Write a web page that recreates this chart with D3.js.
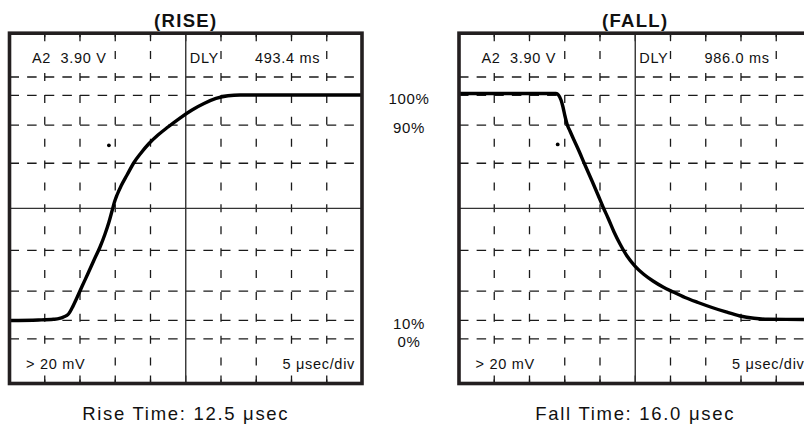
<!DOCTYPE html>
<html>
<head>
<meta charset="utf-8">
<script src="https://cdn.jsdelivr.net/npm/d3@7/dist/d3.min.js"></script>
<style>
  html, body { margin: 0; padding: 0; background: #fff; }
  svg { display: block; }
  text { font-family: "Liberation Sans", Arial, Helvetica, sans-serif; fill: #111; white-space: pre; }
</style>
</head>
<body>
<svg id="chart" width="804" height="425"></svg>
<script>
// ---------------- DATA ----------------
const panelTitles = ["(RISE)", "(FALL)"];
const captions = ["Rise Time: 12.5 μsec", "Fall Time: 16.0 μsec"];
const channelLabel = "A2  3.90 V";
const delayLabel = "DLY";
const delayValues = ["493.4 ms", "986.0 ms"];
const sensLabel = "> 20 mV";
const timebaseLabel = "5 μsec/div";

// time in µsec (5 µsec/div, 10 divisions), level in vertical divisions (8 divisions)
const riseTime  = [-25, -20.89, -18.76, -17.91, -17.34, -16.63, -16.13, -15.42, -14.72, -13.87, -13.01, -12.16, -11.45, -10.89, -10.46, -10.11, -9.75, -9.18, -8.33, -7.34, -6.35, -5.21, -3.94, -2.52, -0.82, 0.89, 2.59, 4.29, 5.99, 7.70, 25];
const riseLevel = [-2.561, -2.550, -2.534, -2.515, -2.481, -2.413, -2.276, -2.036, -1.785, -1.488, -1.180, -0.883, -0.586, -0.312, -0.061, 0.145, 0.305, 0.510, 0.762, 1.047, 1.264, 1.481, 1.675, 1.858, 2.063, 2.246, 2.394, 2.509, 2.572, 2.588, 2.588];

const fallTime  = [-25, -11.24, -10.89, -10.53, -10.25, -9.97, -9.68, -9.26, -8.69, -7.98, -7.13, -6.13, -5.28, -4.57, -3.86, -3.01, -2.16, -1.17, -0.04, 1.24, 2.52, 3.94, 5.38, 7.06, 8.90, 10.89, 12.87, 14.86, 16.84, 18.83, 25];
const fallLevel = [2.623, 2.623, 2.588, 2.474, 2.314, 2.109, 1.926, 1.766, 1.560, 1.309, 0.990, 0.624, 0.305, 0.031, -0.220, -0.540, -0.814, -1.088, -1.317, -1.511, -1.659, -1.796, -1.910, -2.036, -2.150, -2.264, -2.367, -2.458, -2.511, -2.534, -2.538];

const dotTime  = [-10.9, -11.0];
const dotLevel = [1.44, 1.46];

// horizontal graticule levels (divisions), solid centre at 0
const hGridLevels = [3.0, 2.58, 1.9, 1.03, -0.96, -1.89, -2.56, -2.98];
const vGridTimes = [-20, -15, -10, -5, 5, 10, 15, 20];

const pctLabels = ["100%", "90%", "10%", "0%"];
const pctLevels = [2.58, 1.9, -2.56, -2.98];

// ---------------- DRAW ----------------
const svg = d3.select("#chart");
const panelLeft = [9.5, 459];
const panelWidth = 352.5;
const frameTop = 33.2, frameBottom = 383.5;

const y = d3.scaleLinear().domain([-4, 4]).range([frameBottom, frameTop]);
const divPx = (frameBottom - frameTop) / 8;

function drawPanel(i, times, levels) {
  const x = d3.scaleLinear().domain([-25, 25]).range([panelLeft[i], panelLeft[i] + panelWidth]);
  const g = svg.append("g");

  // horizontal dashed graticule
  g.selectAll("line.h").data(hGridLevels).join("line")
    .attr("x1", x(-25)).attr("x2", x(25))
    .attr("y1", d => y(d)).attr("y2", d => y(d))
    .attr("stroke", "#1a1a1a").attr("stroke-width", 1.3)
    .attr("stroke-dasharray", "9.5,8.125");

  // vertical dashed graticule (dashes centred on half-division marks)
  const step = divPx / 2;
  g.selectAll("line.v").data(vGridTimes).join("line")
    .attr("x1", d => x(d)).attr("x2", d => x(d))
    .attr("y1", y(4)).attr("y2", y(-4))
    .attr("stroke", "#1a1a1a").attr("stroke-width", 1.3)
    .attr("stroke-dasharray", `8,${step - 8}`)
    .attr("stroke-dashoffset", 4);

  // frame ticks
  vGridTimes.concat([0]).forEach(t => {
    g.append("line").attr("x1", x(t)).attr("x2", x(t)).attr("y1", y(4)).attr("y2", y(4) + 8)
      .attr("stroke", "#1a1a1a").attr("stroke-width", 1.3);
    g.append("line").attr("x1", x(t)).attr("x2", x(t)).attr("y1", y(-4)).attr("y2", y(-4) - 8)
      .attr("stroke", "#1a1a1a").attr("stroke-width", 1.3);
  });

  // solid centre axes
  g.append("line").attr("x1", x(0)).attr("x2", x(0)).attr("y1", y(4)).attr("y2", y(-4))
    .attr("stroke", "#333").attr("stroke-width", 1.4);
  g.append("line").attr("x1", x(-25)).attr("x2", x(25)).attr("y1", y(0)).attr("y2", y(0))
    .attr("stroke", "#333").attr("stroke-width", 1.4);

  // labels inside, with white mask behind
  const labels = [
    {t: channelLabel, x: x(-25) + 22.5, y: 63, a: "start"},
    {t: delayLabel, x: x(0) + 4, y: 63, a: "start"},
    {t: delayValues[i], x: x(20) - 6.5, y: 63, a: "end"},
    {t: sensLabel, x: x(-25) + 16.5, y: 369, a: "start"},
    {t: timebaseLabel, x: x(25) - 7, y: 369, a: "end"}
  ];
  labels.forEach(l => {
    const tx = g.append("text").attr("x", l.x).attr("y", l.y).attr("text-anchor", l.a)
      .attr("font-size", 14.5).attr("letter-spacing", 0.7).text(l.t);
    const bb = tx.node().getBBox();
    g.insert("rect", () => tx.node())
      .attr("x", bb.x - 1).attr("y", bb.y).attr("width", bb.width + 1).attr("height", bb.height)
      .attr("fill", "#fff");
  });

  // trace
  const line = d3.line().x(d => x(d[0])).y(d => y(d[1])).curve(d3.curveMonotoneX);
  g.append("path").datum(d3.zip(times, levels)).attr("d", line)
    .attr("fill", "none").attr("stroke", "#000").attr("stroke-width", 3.4)
    .attr("stroke-linejoin", "round");

  // marker dot
  g.append("circle").attr("cx", x(dotTime[i])).attr("cy", y(dotLevel[i])).attr("r", 1.9).attr("fill", "#000");

  // frame
  g.append("rect").attr("x", x(-25)).attr("y", y(4)).attr("width", panelWidth).attr("height", frameBottom - frameTop)
    .attr("fill", "none").attr("stroke", "#231f20").attr("stroke-width", 3.6);

  // title
  svg.append("text").attr("x", x(0)).attr("y", 27).attr("text-anchor", "middle")
    .attr("font-size", 18.5).attr("font-weight", "bold").attr("letter-spacing", 1.3).text(panelTitles[i]);

  // caption
  svg.append("text").attr("x", x(0)).attr("y", 420).attr("text-anchor", "middle")
    .attr("font-size", 18.5).attr("letter-spacing", 1.7).text(captions[i]);
}

drawPanel(0, riseTime, riseLevel);
drawPanel(1, fallTime, fallLevel);

// percentage labels between the panels
svg.selectAll("text.pct").data(pctLabels).join("text")
  .attr("class", "pct")
  .attr("x", 409).attr("y", (d, i) => y(pctLevels[i]) + 3).attr("dy", "0.35em")
  .attr("text-anchor", "middle").attr("font-size", 15).attr("letter-spacing", 0.7)
  .text(d => d);
</script>
</body>
</html>
